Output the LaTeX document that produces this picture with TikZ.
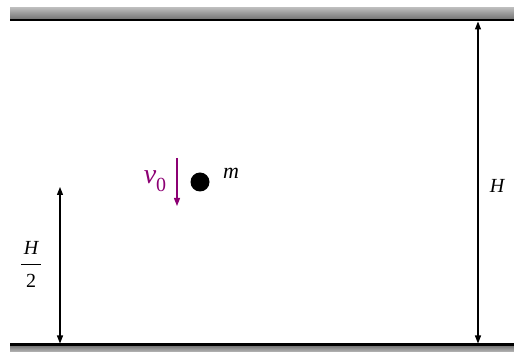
\documentclass[tikz,border=0pt]{standalone}
\usepackage{fontspec}
\setmainfont{Liberation Serif}
\usetikzlibrary{arrows.meta}
\begin{document}
\begin{tikzpicture}[x=1pt,y=-1pt,
  dim/.style={black,line width=1.2pt,{Triangle[length=8pt,width=6pt]}-{Triangle[length=8pt,width=6pt]}},
  vel/.style={color=violet!80!purple,line width=1.2pt,-{Triangle[length=8pt,width=6pt]}},
  lbl/.style={font=\fontsize{20}{22}\selectfont\itshape,inner sep=0pt}]
\useasboundingbox (0,0) rectangle (514,352);
% plates
\shade[top color=gray!55,bottom color=gray!90!black] (10,8) rectangle (514,19.5);
\draw[line width=2pt] (10,20) -- (514,20);
\shade[top color=gray!90!black,bottom color=gray!55] (10,345.5) rectangle (514,352);
\draw[line width=2.2pt] (10,344.5) -- (514,344.5);
% coordinates
\coordinate (rt) at (478,21.5);
\coordinate (rb) at (478,343.5);
\coordinate (lt) at (60,187);
\coordinate (lb) at (60,343.5);
\coordinate (vs) at (177,158);
\coordinate (ve) at (177,206);
% arrows
\draw[dim] (rt) -- (rb);
\draw[dim] (lt) -- (lb);
\draw[vel] (vs) -- (ve);
% ball
\node[circle,fill=black,minimum size=19pt,inner sep=0pt] (ball) at (200,182) {};
% labels
\node[lbl] (H) at (497,186) {H};
\node[lbl,font=\fontsize{22}{24}\selectfont\itshape] (m) at (231,173) {m};
\node[lbl,color=violet!80!purple,font=\fontsize{28}{30}\selectfont\itshape] (v0) at (155,181) {v\raisebox{-0.3em}{\upshape\fontsize{20}{22}\selectfont 0}};
\node[lbl] (Hn) at (31,248) {H};
\node[lbl,font=\fontsize{20}{22}\selectfont] (Hd) at (31,281) {2};
\draw[line width=0.8pt] (21,264) -- (41,264);
\end{tikzpicture}
\end{document}
